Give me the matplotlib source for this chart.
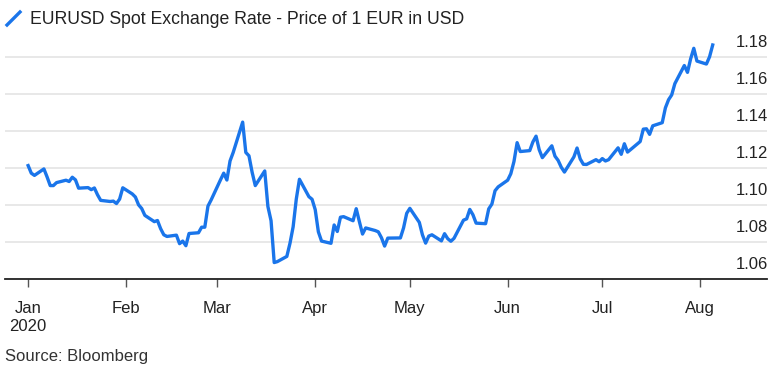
import matplotlib
matplotlib.use("Agg")
import matplotlib.pyplot as plt
import pandas as pd
from matplotlib.lines import Line2D

plt.rcParams['font.family'] = ['Liberation Sans', 'DejaVu Sans']

# EURUSD daily close, weekdays 2020-01-01 .. 2020-08-05
jan = [1.1213, 1.1172, 1.1160, 1.1195, 1.1152, 1.1105, 1.1105, 1.1121, 1.1134, 1.1127,
       1.1150, 1.1136, 1.1091, 1.1094, 1.1083, 1.1092, 1.1055, 1.1025, 1.1019, 1.1021,
       1.1008, 1.1032, 1.1093]
feb = [1.1060, 1.1043, 1.1001, 1.0981, 1.0944, 1.0910, 1.0916, 1.0872, 1.0839, 1.0830,
       1.0837, 1.0791, 1.0805, 1.0780, 1.0846, 1.0850, 1.0880, 1.0880, 1.0994, 1.1027]
mar = [1.1137, 1.1172, 1.1135, 1.1238, 1.1284, 1.1448, 1.1284, 1.1266, 1.1177, 1.1105,
       1.1184, 1.0992, 1.0915, 1.0689, 1.0694, 1.0722, 1.0793, 1.0882, 1.1032, 1.1139,
       1.1045, 1.1031]
apr = [1.0975, 1.0855, 1.0805, 1.0793, 1.0892, 1.0857, 1.0934, 1.0937, 1.0915, 1.0980,
       1.0910, 1.0843, 1.0876, 1.0862, 1.0855, 1.0823, 1.0778, 1.0821, 1.0822, 1.0822,
       1.0876, 1.0955]
may = [1.0982, 1.0906, 1.0838, 1.0794, 1.0832, 1.0839, 1.0806, 1.0845, 1.0818, 1.0804,
       1.0820, 1.0918, 1.0925, 1.0976, 1.0947, 1.0902, 1.0899, 1.0979, 1.1005, 1.1077,
       1.1098]
jun = [1.1134, 1.1169, 1.1235, 1.1337, 1.1289, 1.1294, 1.1341, 1.1372, 1.1299, 1.1256,
       1.1320, 1.1264, 1.1241, 1.1204, 1.1178, 1.1260, 1.1308, 1.1249, 1.1220, 1.1219,
       1.1245, 1.1234]
jul = [1.1251, 1.1238, 1.1245, 1.1309, 1.1274, 1.1331, 1.1286, 1.1300, 1.1343, 1.1410,
       1.1412, 1.1382, 1.1428, 1.1445, 1.1525, 1.1569, 1.1595, 1.1656, 1.1754, 1.1717,
       1.1790, 1.1847, 1.1778]
aug = [1.1762, 1.1801, 1.1865]

rate = jan + feb + mar + apr + may + jun + jul + aug
dates = pd.bdate_range("2020-01-01", "2020-08-05")

month_ticks = pd.date_range("2020-01-01", "2020-08-01", freq="MS")
month_labels = ["Jan\n2020", "Feb", "Mar", "Apr", "May", "Jun", "Jul", "Aug"]
y_ticks = [1.06, 1.08, 1.10, 1.12, 1.14, 1.16, 1.18]
y_labels = ["1.06", "1.08", "1.10", "1.12", "1.14", "1.16", "1.18"]

BLUE = "#1a75ea"
TEXT = "#222222"

W, H = 775, 367
fig = plt.figure(figsize=(W / 100, H / 100), dpi=100)
ax = fig.add_axes([5 / W, (H - 279) / H, 762 / W, 240.5 / H])

ax.plot(dates, rate, color=BLUE, lw=2.4, zorder=3)

ax.set_xlim(pd.Timestamp("2019-12-24 16:00"), pd.Timestamp("2020-08-22 05:00"))
ax.set_ylim(1.06, 1.19)

# horizontal grid, labels sit above their lines on the right
ax.set_yticks(y_ticks)
ax.yaxis.grid(True, color="#e6e6e6", lw=1.3)
ax.tick_params(axis="y", length=0, labelleft=False)
for v, lab in zip(y_ticks, y_labels):
    ax.annotate(lab, xy=(1, v), xycoords=("axes fraction", "data"),
                xytext=(0.8, 7.5), textcoords="offset points",
                ha="right", va="baseline", fontsize=12, color=TEXT)

ax.set_xticks(month_ticks)
ax.set_xticklabels(month_labels, linespacing=1.3)
ax.tick_params(axis="x", length=6, width=1, color="#555555", pad=9.5,
               labelsize=12, labelcolor=TEXT)

for s in ["top", "left", "right"]:
    ax.spines[s].set_visible(False)
ax.spines["bottom"].set_color("#222222")
ax.spines["bottom"].set_linewidth(1.3)

# legend: little slanted line + series name
fig.add_artist(Line2D([7 / W, 20 / W], [1 - 25 / H, 1 - 12 / H], color=BLUE, lw=2.4,
                      transform=fig.transFigure))
fig.text(30 / W, 1 - 19 / H, "EURUSD Spot Exchange Rate - Price of 1 EUR in USD",
         va="center", ha="left", fontsize=12.7, color=TEXT)

fig.text(5 / W, 1 - 356 / H, "Source: Bloomberg", va="center", ha="left",
         fontsize=12, color="#333333")

fig.savefig("out.png", dpi=100)
